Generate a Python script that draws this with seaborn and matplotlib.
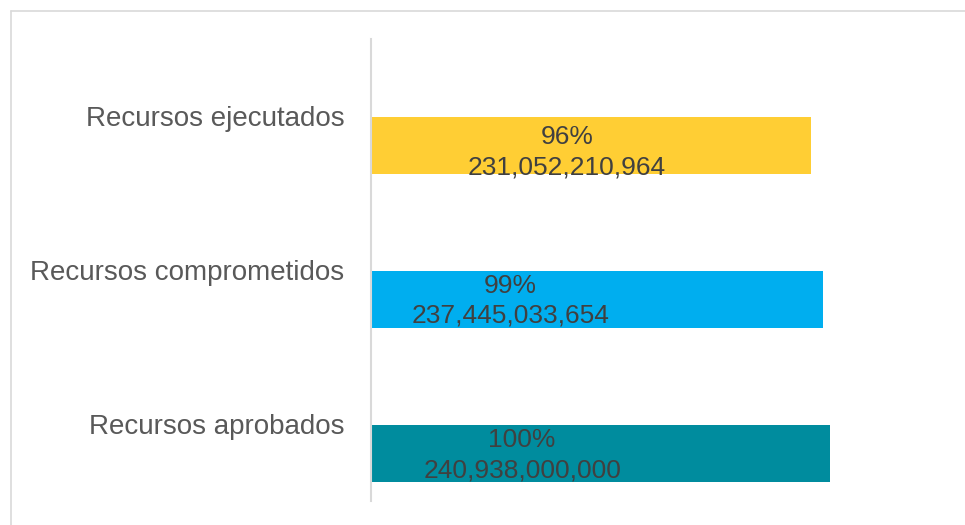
import matplotlib
matplotlib.use("Agg")
import matplotlib.pyplot as plt
import seaborn as sns
from matplotlib.lines import Line2D

# Data (top to bottom)
categorias = ["Recursos ejecutados", "Recursos comprometidos", "Recursos aprobados"]
valores = [231052210964, 237445033654, 240938000000]
porcentajes = ["96%", "99%", "100%"]

colores = ["#FFCE34", "#00AEEF", "#008C9E"]

# where the data labels sit (x in data units, y shift in category units)
label_x = [102.9e9, 73e9, 79.3e9]
label_dy = [0.042, 0.007, 0.010]

sns.set_style("white")
plt.rcParams['font.family'] = ['Liberation Sans', 'DejaVu Sans']

fig = plt.figure(figsize=(9.65, 5.25), dpi=100)
ax = fig.add_axes([371 / 965, 1 - 501 / 525, 571.5 / 965, 462 / 525])

sns.barplot(x=valores, y=categorias, hue=categorias, palette=colores,
            orient="h", width=0.37, legend=False, ax=ax, saturation=1,
            linewidth=0)

# category labels sit above the bars (Excel style band offset)
off = 0.1916
ax.set_yticks([i - off for i in range(len(categorias))])
ax.set_yticklabels(categorias, fontsize=20, color="#595959")
ax.tick_params(axis="y", length=0, pad=19)
ax.set_ylim(len(categorias) - 0.5 - off, -0.5 - off)
ax.set_xlim(0, 300e9)
ax.set_xticks([])
ax.set_xlabel("")
ax.set_ylabel("")

for s in ["top", "right", "bottom"]:
    ax.spines[s].set_visible(False)
ax.spines["left"].set_color("#D9D9D9")
ax.spines["left"].set_linewidth(1.5)

for i, v in enumerate(valores):
    ax.text(label_x[i], i + label_dy[i], f"{porcentajes[i]}\n{v:,}",
            ha="center", va="center", fontsize=19, color="#404040",
            linespacing=1.32)

# chart border (only top/left visible in the crop)
fig.add_artist(Line2D([11 / 965, 1.0], [1 - 11 / 525, 1 - 11 / 525],
                      transform=fig.transFigure, color="#D9D9D9", lw=1.2))
fig.add_artist(Line2D([11 / 965, 11 / 965], [0, 1 - 11 / 525],
                      transform=fig.transFigure, color="#D9D9D9", lw=1.2))

fig.savefig("out.png", dpi=100)
